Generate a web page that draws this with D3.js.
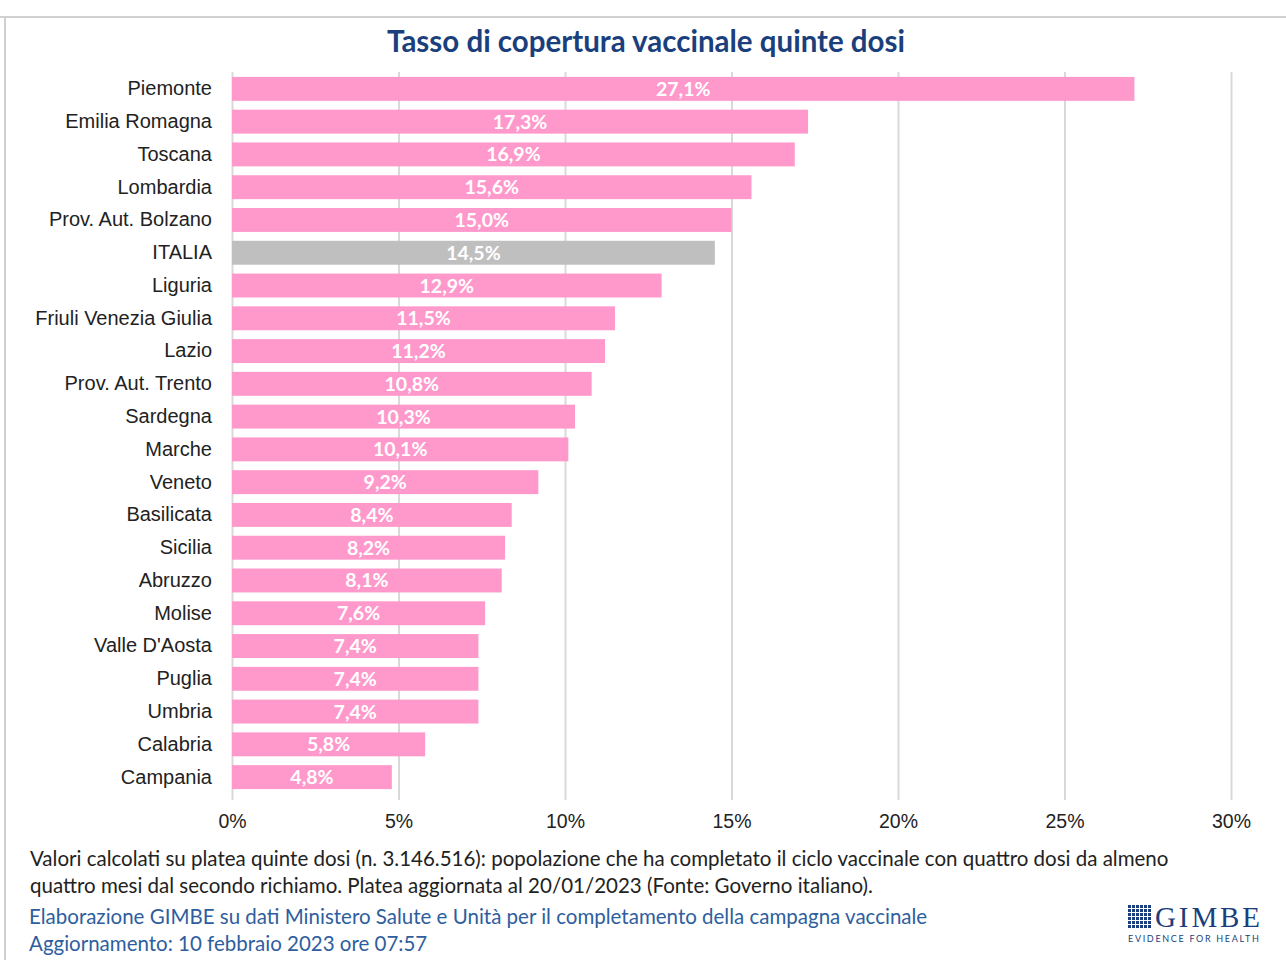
<!DOCTYPE html>
<meta charset="utf-8">
<style>
  body { margin: 0; background: #fff; }
  svg { display: block; font-family: "Lato", "Open Sans", sans-serif; }
  .grid line { stroke: #d9d9d9; stroke-width: 2; }
  .grid path { display: none; }
  .cat text { fill: #222; font-size: 20px; }
  .xax text { fill: #222; font-size: 19.5px; }
  .val { fill: #fff; font-weight: bold; font-size: 19.5px; }
</style>
<body>
<script src="https://d3js.org/d3.v7.min.js"></script>
<script>

// data
var regions = ["Piemonte","Emilia Romagna","Toscana","Lombardia","Prov. Aut. Bolzano","ITALIA",
  "Liguria","Friuli Venezia Giulia","Lazio","Prov. Aut. Trento","Sardegna","Marche","Veneto",
  "Basilicata","Sicilia","Abruzzo","Molise","Valle D'Aosta","Puglia","Umbria","Calabria","Campania"];
var coverage = [27.1,17.3,16.9,15.6,15.0,14.5,12.9,11.5,11.2,10.8,10.3,10.1,9.2,8.4,8.2,8.1,7.6,7.4,7.4,7.4,5.8,4.8];
var ticks = [0,5,10,15,20,25,30];

var W = 1286, H = 960;
var fmt = function(v){ return v.toFixed(1).replace(".", ",") + "%"; };

var svg = d3.select("body").append("svg").attr("width", W).attr("height", H);

// frame
svg.append("line").attr("x1",0).attr("x2",W).attr("y1",17).attr("y2",17).attr("stroke","#d0d0d0").attr("stroke-width",2);
svg.append("line").attr("x1",5).attr("x2",5).attr("y1",17).attr("y2",H).attr("stroke","#d0d0d0").attr("stroke-width",2);

svg.append("text").attr("x",646).attr("y",52).attr("text-anchor","middle")
  .attr("fill","#1b3f7c").attr("font-size",29.5).attr("font-weight","bold")
  .text("Tasso di copertura vaccinale quinte dosi");

var x = d3.scaleLinear().domain([0,30]).range([232,1231]);
var y = d3.scaleBand().domain(regions).range([72,794]).paddingInner(0.27).paddingOuter(0.15);

svg.append("g").attr("class","grid")
  .attr("transform","translate(0,800)")
  .call(d3.axisBottom(x).tickValues(ticks).tickSize(-728).tickFormat(""));

svg.append("g").selectAll("rect").data(regions).join("rect")
  .attr("x", x(0))
  .attr("y", function(d){ return y(d); })
  .attr("width", function(d,i){ return x(coverage[i]) - x(0); })
  .attr("height", y.bandwidth())
  .attr("fill", function(d){ return d == "ITALIA" ? "#bfbfbf" : "#ff99cc"; });

svg.append("g").selectAll("text").data(regions).join("text")
  .attr("class","val")
  .attr("x", function(d,i){ return (x(0) + x(coverage[i]))/2; })
  .attr("y", function(d){ return y(d) + y.bandwidth()/2 + 7; })
  .attr("text-anchor","middle")
  .text(function(d,i){ return fmt(coverage[i]); });

var cat = svg.append("g").attr("class","cat")
  .attr("transform","translate(" + (x(0)-20) + ",0)")
  .call(d3.axisLeft(y).tickSize(0).tickPadding(0));
cat.select(".domain").remove();

var xa = svg.append("g").attr("class","xax")
  .attr("transform","translate(0,811)")
  .call(d3.axisBottom(x).tickValues(ticks).tickSize(0).tickPadding(3).tickFormat(function(d){ return d + "%"; }));
xa.select(".domain").remove();

// notes
var notes = [
  "Valori calcolati su platea quinte dosi (n. 3.146.516): popolazione che ha completato il ciclo vaccinale con quattro dosi da almeno",
  "quattro mesi dal secondo richiamo. Platea aggiornata al 20/01/2023 (Fonte: Governo italiano)."
];
var credits = [
  "Elaborazione GIMBE su dati Ministero Salute e Unità per il completamento della campagna vaccinale",
  "Aggiornamento: 10 febbraio 2023 ore 07:57"
];
svg.append("g").selectAll("text").data(notes).join("text")
  .attr("x",30).attr("y",function(d,i){ return 866 + i*27; })
  .attr("font-size",20.5).attr("fill","#222").text(function(d){ return d; });
svg.append("g").selectAll("text").data(credits).join("text")
  .attr("x",29).attr("y",function(d,i){ return 924 + i*27; })
  .attr("font-size",20.5).attr("fill","#2e5e9e").text(function(d){ return d; });

// logo
var logo = svg.append("g").attr("transform","translate(1128,905)");
var cells = d3.range(36);
logo.selectAll("rect").data(cells).join("rect")
  .attr("x", function(d){ return (d % 6) * 4; })
  .attr("y", function(d){ return Math.floor(d / 6) * 4; })
  .attr("width",3).attr("height",3).attr("fill","#1b3f7c");
logo.append("text").attr("x",27).attr("y",22).attr("font-family","Liberation Serif, serif")
  .attr("font-size",29).attr("fill","#1b3f7c").attr("textLength",105).text("GIMBE");
logo.append("text").attr("x",0).attr("y",37).attr("font-size",9).attr("letter-spacing",1.2)
  .attr("fill","#1b3f7c").attr("textLength",132).text("EVIDENCE FOR HEALTH");
</script>
</body>
